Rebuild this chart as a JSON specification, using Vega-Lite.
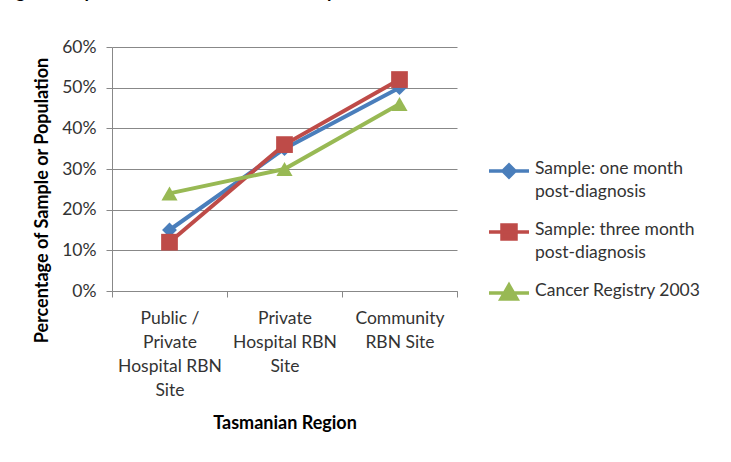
{
  "$schema": "https://vega.github.io/schema/vega-lite/v6.json",
  "width": 345,
  "height": 244,
  "autosize": {"type": "none"},
  "padding": {"left": 112, "top": 47, "right": 274, "bottom": 171},
  "background": "white",
  "title": {
    "text": "Figure 6: Regional representativeness of SCNS samples",
    "anchor": "start",
    "dx": -112,
    "dy": 8,
    "offset": 30,
    "baseline": "alphabetic",
    "font": "Lato",
    "fontSize": 18,
    "fontWeight": "bold",
    "color": "#000000"
  },
  "data": {
    "values": [
      {"region": "Public / Private Hospital RBN Site", "series": "Sample: one month post-diagnosis", "pct": 0.15},
      {"region": "Private Hospital RBN Site", "series": "Sample: one month post-diagnosis", "pct": 0.35},
      {"region": "Community RBN Site", "series": "Sample: one month post-diagnosis", "pct": 0.50},
      {"region": "Public / Private Hospital RBN Site", "series": "Sample: three month post-diagnosis", "pct": 0.12},
      {"region": "Private Hospital RBN Site", "series": "Sample: three month post-diagnosis", "pct": 0.36},
      {"region": "Community RBN Site", "series": "Sample: three month post-diagnosis", "pct": 0.52},
      {"region": "Public / Private Hospital RBN Site", "series": "Cancer Registry 2003", "pct": 0.24},
      {"region": "Private Hospital RBN Site", "series": "Cancer Registry 2003", "pct": 0.30},
      {"region": "Community RBN Site", "series": "Cancer Registry 2003", "pct": 0.46}
    ]
  },
  "encoding": {
    "x": {
      "field": "region",
      "type": "nominal",
      "sort": ["Public / Private Hospital RBN Site", "Private Hospital RBN Site", "Community RBN Site"],
      "scale": {"paddingInner": 0, "paddingOuter": 0},
      "axis": {
        "title": "Tasmanian Region",
        "titleFont": "Lato",
        "titleFontSize": 18,
        "titleFontWeight": "bold",
        "titleColor": "#000000",
        "titlePadding": 16,
        "labelAngle": 0,
        "labelFont": "Lato",
        "labelFontSize": 17.5,
        "labelColor": "#333333",
        "labelLineHeight": 24,
        "labelPadding": 12,
        "labelBaseline": "top",
        "labelExpr": "datum.value == 'Public / Private Hospital RBN Site' ? ['Public /', 'Private', 'Hospital RBN', 'Site'] : datum.value == 'Private Hospital RBN Site' ? ['Private', 'Hospital RBN', 'Site'] : datum.value == 'Community RBN Site' ? ['Community', 'RBN Site'] : ''",
        "domainColor": "#888888",
        "tickColor": "#888888",
        "tickBand": "extent",
        "tickSize": 6,
        "grid": false
      }
    },
    "y": {
      "field": "pct",
      "type": "quantitative",
      "scale": {"domain": [0, 0.6]},
      "axis": {
        "title": "Percentage of Sample or Population",
        "titleFont": "Lato",
        "titleFontSize": 18,
        "titleFontWeight": "bold",
        "titleColor": "#000000",
        "titleX": -61,
        "titleY": 153,
        "format": ".0%",
        "values": [0, 0.1, 0.2, 0.3, 0.4, 0.5, 0.6],
        "labelFont": "Lato",
        "labelFontSize": 17.5,
        "labelColor": "#333333",
        "labelPadding": 10,
        "domainColor": "#888888",
        "tickColor": "#888888",
        "tickSize": 6,
        "gridColor": "#888888",
        "gridWidth": 1
      }
    },
    "color": {
      "field": "series",
      "type": "nominal",
      "sort": ["Sample: one month post-diagnosis", "Sample: three month post-diagnosis", "Cancer Registry 2003"],
      "scale": {
        "domain": ["Sample: one month post-diagnosis", "Sample: three month post-diagnosis", "Cancer Registry 2003"],
        "range": ["#4a7ebb", "#be4b48", "#98b954"]
      },
      "legend": {
        "title": null,
        "orient": "none",
        "legendX": 375,
        "legendY": 102,
        "labelFont": "Lato",
        "labelFontSize": 17.5,
        "labelColor": "#333333",
        "labelLineHeight": 23,
        "labelLimit": 300,
        "rowPadding": 9,
        "symbolSize": 1600,
        "symbolStrokeWidth": 3,
        "symbolOpacity": 1,
        "labelOffset": 4,
        "labelExpr": "datum.value == 'Sample: one month post-diagnosis' ? ['Sample: one month', 'post-diagnosis'] : datum.value == 'Sample: three month post-diagnosis' ? ['Sample: three month', 'post-diagnosis'] : datum.value",
        "encode": {
          "labels": {
            "update": {
              "baseline": {"value": "top"},
              "lineHeight": {"value": 23},
              "dy": {"value": -11}
            }
          },
          "symbols": {
            "update": {
              "shape": {"signal": "datum.value == 'Sample: one month post-diagnosis' ? 'M-1,0L1,0M0,-0.3L0.3,0L0,0.3L-0.3,0Z' : datum.value == 'Sample: three month post-diagnosis' ? 'M-1,0L1,0M-0.35,-0.35L0.35,-0.35L0.35,0.35L-0.35,0.35Z' : 'M-1,0L1,0M0,-0.4L0.4,0.3L-0.4,0.3Z'"},
              "fill": {"signal": "scale('color', datum.value)"},
              "stroke": {"signal": "scale('color', datum.value)"},
              "fillOpacity": {"value": 1},
              "strokeOpacity": {"value": 1},
              "opacity": {"value": 1},
              "strokeWidth": {"value": 3.5}
            }
          }
        }
      }
    }
  },
  "layer": [
    {
      "mark": {"type": "line", "strokeWidth": 4}
    },
    {
      "transform": [{"filter": "datum.series == 'Sample: one month post-diagnosis'"}],
      "mark": {"type": "point", "shape": "diamond", "filled": true, "opacity": 1, "size": 220}
    },
    {
      "transform": [{"filter": "datum.series == 'Sample: three month post-diagnosis'"}],
      "mark": {"type": "point", "shape": "square", "filled": true, "opacity": 1, "size": 280}
    },
    {
      "transform": [{"filter": "datum.series == 'Cancer Registry 2003'"}],
      "mark": {"type": "point", "shape": "triangle-up", "filled": true, "opacity": 1, "size": 260}
    }
  ],
  "config": {
    "view": {"stroke": null}
  }
}
